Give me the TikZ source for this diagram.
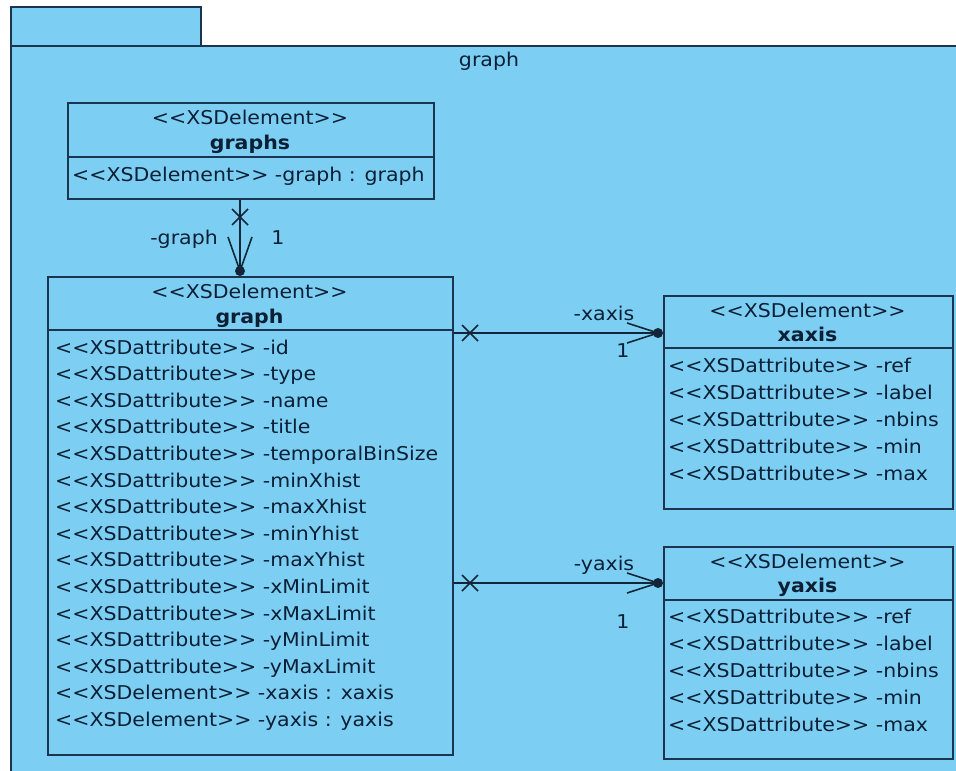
\documentclass[tikz,border=0pt]{standalone}
\usepackage{fontspec}
\setmainfont{DejaVu Sans}[Ligatures=TeXOff,FakeStretch=1.08]
\definecolor{pkgfill}{HTML}{7CCFF3}
\definecolor{edge}{HTML}{1B3550}
\definecolor{ink}{HTML}{0B1F35}
\newcommand\stereo[1]{<<#1>>}
\tikzset{
  box/.style={draw=edge, line width=1.9pt, fill=pkgfill, inner sep=0pt, anchor=north west},
  divider/.style={draw=edge, line width=1.9pt},
  txt/.style={text=ink, font=\fontsize{19}{21}\selectfont, inner sep=0pt, text height=14pt, text depth=4pt},
  attr/.style={txt, anchor=west},
  hd/.style={txt, anchor=center},
  hdb/.style={txt, anchor=center, font=\fontsize{19}{21}\selectfont\bfseries},
  conn/.style={draw=edge!70!black, line width=1.6pt},
  dot/.style={fill=edge!70!black},
}
\begin{document}
\begin{tikzpicture}[x=1pt,y=-1pt]
\useasboundingbox (0,0) rectangle (956,771);
% package
\node[box, minimum width=190, minimum height=39] (tab) at (10,6) {};
\node[box, minimum width=980, minimum height=760] (pkg) at (10,45) {};
\node[hd] (pkglabel) at (489,61) {graph};

% graphs
\node[box, minimum width=366, minimum height=96] (graphs) at (67,102) {};
\draw[divider] (graphs.west |- 0,157) -- (graphs.east |- 0,157);
\node[hd] (graphs-st) at (250,119) {\stereo{XSDelement}};
\node[hdb] (graphs-nm) at (250,144) {graphs};
\node[attr] (graphs-a0) at (72,176) {\stereo{XSDelement} -graph : graph};

% graph
\node[box, minimum width=405, minimum height=478] (graph) at (47,276) {};
\draw[divider] (graph.west |- 0,330) -- (graph.east |- 0,330);
\node[hd] (graph-st) at (249.5,293) {\stereo{XSDelement}};
\node[hdb] (graph-nm) at (249.5,318) {graph};
\foreach \t [count=\i from 0] in {id,type,name,title,temporalBinSize,minXhist,maxXhist,minYhist,maxYhist,xMinLimit,xMaxLimit,yMinLimit,yMaxLimit}
  \node[attr] (graph-a\i) at (55,{349+26.6*\i}) {\stereo{XSDattribute} -\t};
\node[attr] (graph-a13) at (55,{349+26.6*13}) {\stereo{XSDelement} -xaxis : xaxis};
\node[attr] (graph-a14) at (55,{349+26.6*14}) {\stereo{XSDelement} -yaxis : yaxis};

% xaxis
\node[box, minimum width=289, minimum height=213] (xaxis) at (663,295) {};
\draw[divider] (xaxis.west |- 0,348) -- (xaxis.east |- 0,348);
\node[hd] (xaxis-st) at (807.5,312) {\stereo{XSDelement}};
\node[hdb] (xaxis-nm) at (807.5,336) {xaxis};
\foreach \t [count=\i from 0] in {ref,label,nbins,min,max}
  \node[attr] (xaxis-a\i) at (668,{367+27*\i}) {\stereo{XSDattribute} -\t};

% yaxis
\node[box, minimum width=289, minimum height=212] (yaxis) at (663,546) {};
\draw[divider] (yaxis.west |- 0,600) -- (yaxis.east |- 0,600);
\node[hd] (yaxis-st) at (807.5,563) {\stereo{XSDelement}};
\node[hdb] (yaxis-nm) at (807.5,587) {yaxis};
\foreach \t [count=\i from 0] in {ref,label,nbins,min,max}
  \node[attr] (yaxis-a\i) at (668,{618+27*\i}) {\stereo{XSDattribute} -\t};

% graphs -> graph
\coordinate (gtip) at (240,271);
\coordinate (gx) at (240,217);
\draw[conn] (graphs.south -| gtip) -- (gtip);
\draw[conn] (gtip) ++(-12,-34) -- (gtip) -- ++(12,-34);
\draw[conn] (gx) ++(-8,-8) -- ++(16,16) (gx) ++(8,-8) -- ++(-16,16);
\fill[dot] (gtip) circle (5pt);
\node[txt, anchor=east] (glab) at (218,239) {-graph};
\node[txt] (gone) at (278,239) {1};

% graph -> xaxis
\coordinate (xtip) at (658,333);
\coordinate (xx) at (470,333);
\draw[conn] (graph.east |- xtip) -- (xtip);
\draw[conn] (xtip) ++(-31,-10) -- (xtip) -- ++(-31,10);
\draw[conn] (xx) ++(-8,-8) -- ++(16,16) (xx) ++(8,-8) -- ++(-16,16);
\fill[dot] (xtip) circle (5pt);
\node[txt] (xlab) at (604,315) {-xaxis};
\node[txt] (xone) at (623,352) {1};

% graph -> yaxis
\coordinate (ytip) at (658,583);
\coordinate (yx) at (470,583);
\draw[conn] (graph.east |- ytip) -- (ytip);
\draw[conn] (ytip) ++(-31,-10) -- (ytip) -- ++(-31,10);
\draw[conn] (yx) ++(-8,-8) -- ++(16,16) (yx) ++(8,-8) -- ++(-16,16);
\fill[dot] (ytip) circle (5pt);
\node[txt] (ylab) at (604,565) {-yaxis};
\node[txt] (yone) at (623,623) {1};
\end{tikzpicture}
\end{document}
